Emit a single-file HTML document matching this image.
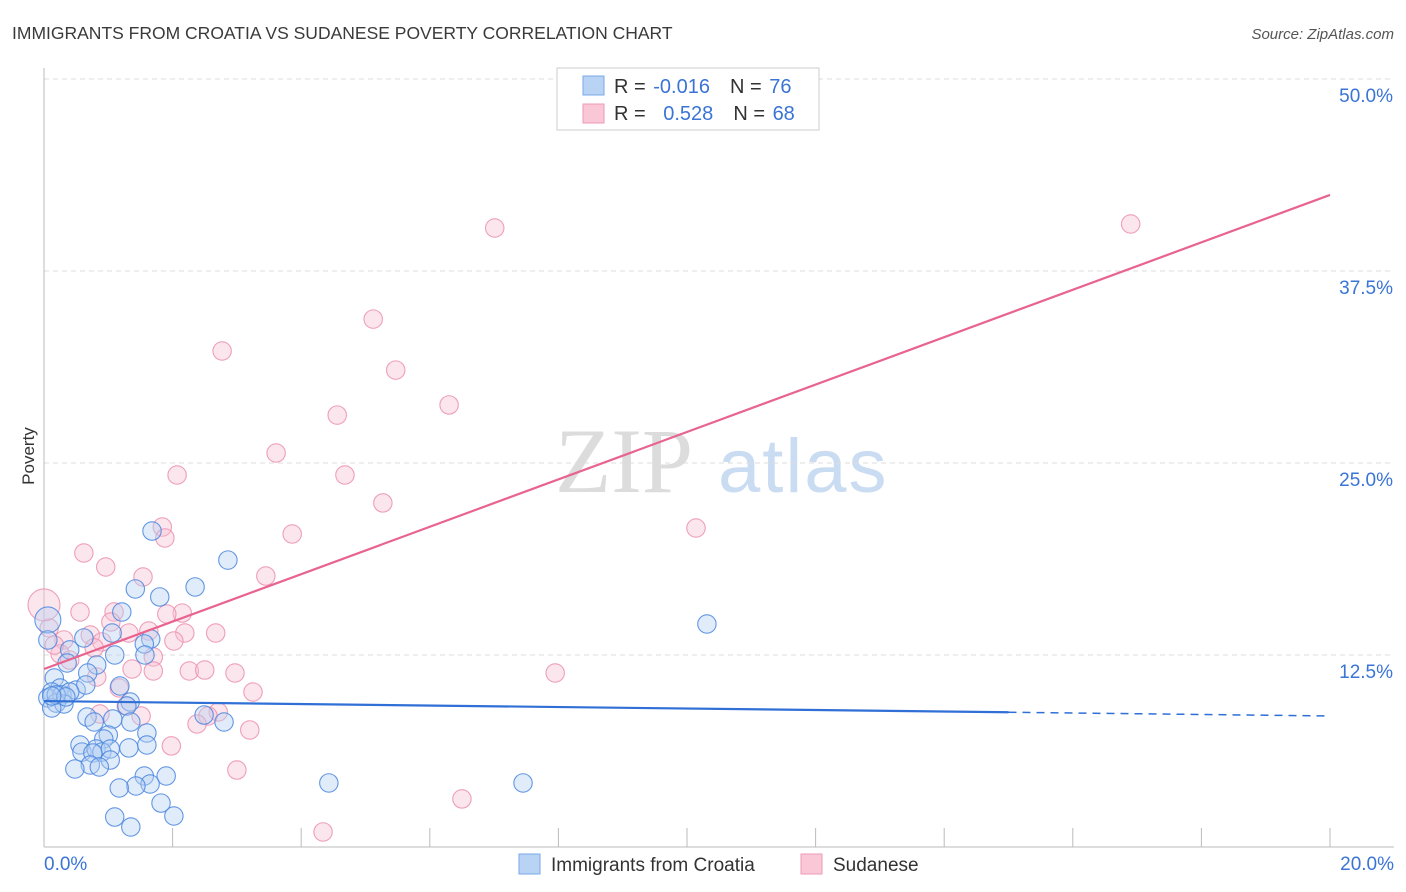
<!DOCTYPE html>
<html><head><meta charset="utf-8"><style>
body{margin:0;background:#fff;font-family:"Liberation Sans",sans-serif;}
#wrap{position:relative;width:1406px;height:892px;overflow:hidden;}
</style></head><body>
<div id="wrap">
<svg id="svg" width="1406" height="892" xmlns="http://www.w3.org/2000/svg">
<text x="12" y="39" font-size="17.5" fill="#3a3a3a">IMMIGRANTS FROM CROATIA VS SUDANESE POVERTY CORRELATION CHART</text>
<text x="1394" y="39" font-size="15" fill="#555" font-style="italic" text-anchor="end">Source: ZipAtlas.com</text>
<text x="34" y="456" font-size="17" fill="#333" text-anchor="middle" transform="rotate(-90 34 456)">Poverty</text>
<text x="555" y="492" font-size="92" fill="#dcdcdc" font-family="Liberation Serif,serif">ZIP</text>
<text x="718" y="492" font-size="76" fill="#c9dcf2" letter-spacing="2">atlas</text>
<g id="grid"></g><g id="axes"></g><g id="pts"></g><g id="trend"></g>
<g>
<rect x="557" y="68" width="262" height="62" fill="#fff" stroke="#ccc"/>
<rect x="583" y="76" width="21" height="19" fill="#b8d3f4" stroke="#7aaae8"/>
<rect x="583" y="104" width="21" height="19" fill="#f9c7d6" stroke="#ef9ab5"/>
<text x="614" y="93" font-size="20" fill="#333">R = <tspan fill="#3a74d6" dx="2">-0.016</tspan><tspan dx="20">N = </tspan><tspan fill="#3a74d6" dx="2">76</tspan></text>
<text x="614" y="120" font-size="20" fill="#333">R = <tspan fill="#3a74d6" dx="12">0.528</tspan><tspan dx="20">N = </tspan><tspan fill="#3a74d6" dx="2">68</tspan></text>
</g>
<g>
<rect x="519" y="854" width="21" height="20" fill="#b8d3f4" stroke="#7aaae8"/>
<text x="551" y="871" font-size="19" fill="#333">Immigrants from Croatia</text>
<rect x="801" y="854" width="21" height="20" fill="#f9c7d6" stroke="#ef9ab5"/>
<text x="833" y="871" font-size="19" fill="#333">Sudanese</text>
</g>
</svg>
</div>
<script>
const yTicks=[12.5,25,37.5,50];
const yTickLabels=["12.5%","25.0%","37.5%","50.0%"];
const xTickVals=[2,4,6,8,10,12,14,16,18,20];
const croatiaX=[1.68,2.86,2.35,1.42,1.80,1.21,1.06,1.66,1.56,1.57,1.10,0.62,0.40,0.36,0.82,0.68,0.16,0.50,0.65,1.18,0.25,0.12,0.06,0.28,0.40,0.19,0.31,0.12,1.34,1.29,0.67,0.78,1.07,2.49,2.80,1.35,1.60,1.00,0.93,0.56,0.59,0.81,0.90,1.03,0.76,1.32,1.60,0.72,1.03,0.86,0.48,1.56,1.90,1.65,1.43,1.17,1.82,2.02,1.10,1.35,4.43,7.45,10.31,0.06,0.06,0.19,0.34,0.12];
const croatiaY=[20.57,18.68,16.93,16.80,16.28,15.30,13.93,13.54,13.22,12.50,12.50,13.61,12.83,11.98,11.85,11.33,11.00,10.22,10.55,10.48,10.35,10.09,9.70,9.90,10.09,9.37,9.31,9.05,9.44,9.18,8.46,8.14,8.33,8.59,8.14,8.14,7.42,7.29,7.03,6.64,6.18,6.38,6.18,6.38,6.12,6.45,6.64,5.34,5.66,5.21,5.08,4.62,4.62,4.10,3.97,3.84,2.86,2.02,1.95,1.30,4.17,4.17,14.52,14.78,13.48,9.90,9.77,9.83];
const sudaneseX=[7.01,16.90,5.12,2.77,5.47,6.30,4.56,3.61,2.07,4.68,5.27,1.84,1.88,3.86,10.14,0.62,0.96,3.45,1.54,0.56,1.09,2.15,1.91,1.04,1.63,1.32,2.19,2.67,0.08,0.00,0.72,0.31,0.90,2.02,0.25,1.70,0.78,1.37,2.26,2.50,2.97,1.70,0.82,7.95,1.17,3.25,1.28,1.51,2.71,2.55,2.38,3.20,0.87,1.98,3.00,6.50,4.34,0.16,0.40];
const sudaneseY=[40.30,40.56,34.37,32.29,31.05,28.78,28.12,25.65,24.22,24.22,22.40,20.83,20.12,20.38,20.77,19.14,18.23,17.64,17.58,15.30,15.30,15.23,15.17,14.65,14.06,13.93,13.93,13.93,14.26,15.76,13.80,13.48,13.35,13.41,12.57,12.37,12.96,11.59,11.46,11.52,11.33,11.46,11.07,11.33,10.35,10.09,9.18,8.53,8.79,8.53,8.01,7.62,8.66,6.58,5.01,3.13,0.98,13.15,12.17];
const trendCroatia=[9.50,8.53];
const trendSudanese=[11.59,42.45];
const dashStart=15.0;
const X0=44,X1=1330,Y0=847,PX=(X1-X0)/20,PY=192/12.5;
const sx=v=>X0+v*PX, sy=v=>Y0-v*PY;
const NS="http://www.w3.org/2000/svg";
function mk(tag,attrs,parent){const e=document.createElementNS(NS,tag);for(const k in attrs)e.setAttribute(k,attrs[k]);document.getElementById(parent).appendChild(e);return e;}
yTicks.forEach((t,i)=>{
 const l=mk('line',{x1:X0,x2:1394,y1:sy(t),y2:sy(t),stroke:'#ddd','stroke-dasharray':'5,4'},'grid');
 
 
 const tx=mk('text',{x:1393,y:sy(t)+23,'font-size':19,fill:'#3a74d6','text-anchor':'end'},'grid');
 tx.textContent=yTickLabels[i];
 
 
});
const ax=mk('line',{x1:X0,x2:X0,y1:68,y2:Y0,stroke:'#bbb'},'axes');


const bx=mk('line',{x1:X0,x2:1394,y1:Y0,y2:Y0,stroke:'#bbb'},'axes');


xTickVals.forEach(t=>{
 const l=mk('line',{x1:sx(t),x2:sx(t),y1:Y0-19,y2:Y0,stroke:'#bbb'},'axes');
 
 
});
const xl0=mk('text',{x:X0,y:870,'font-size':19,fill:'#3a74d6'},'axes');xl0.textContent='0.0%';


const xl1=mk('text',{x:1394,y:870,'font-size':19,fill:'#3a74d6','text-anchor':'end'},'axes');xl1.textContent='20.0%';


function dots(xs,ys,fill,stroke,name,bigIdx,bigR){
 xs.forEach((x,i)=>{
  const c=mk('circle',{cx:sx(x),cy:sy(ys[i]),r:i===bigIdx?bigR:9.2,fill:fill,'fill-opacity':0.4,stroke:stroke,'stroke-width':1.1,'stroke-opacity':0.85},'pts');
  
  
 });
}
dots(sudaneseX,sudaneseY,'#f7c1d1','#eb8fae','sudanese-point',29,16);
dots(croatiaX,croatiaY,'#b5d0f3','#4a86de','croatia-point',63,13);
const tc=x=>trendCroatia[0]+(trendCroatia[1]-trendCroatia[0])*x/20;
const ts=x=>trendSudanese[0]+(trendSudanese[1]-trendSudanese[0])*x/20;
const l1=mk('line',{x1:sx(0),y1:sy(tc(0)),x2:sx(dashStart),y2:sy(tc(dashStart)),stroke:'#2f6fd6','stroke-width':2.2},'trend');


const l2=mk('line',{x1:sx(dashStart),y1:sy(tc(dashStart)),x2:sx(20),y2:sy(tc(20)),stroke:'#2f6fd6','stroke-width':1.5,'stroke-dasharray':'8,6'},'trend');


const l3=mk('line',{x1:sx(0),y1:sy(ts(0)),x2:sx(20),y2:sy(ts(20)),stroke:'#e8648f','stroke-width':2.2},'trend');


</script>
</body></html>
